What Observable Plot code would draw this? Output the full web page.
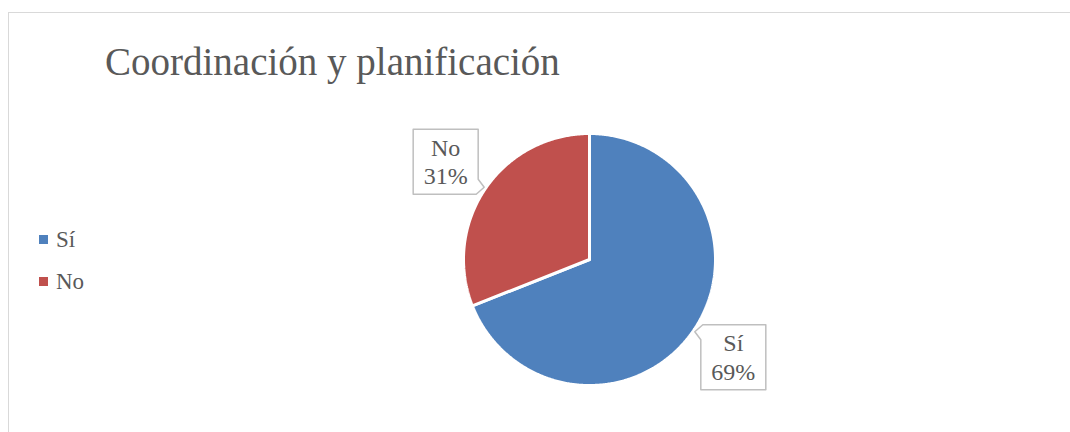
<!DOCTYPE html>
<html>
<head>
<meta charset="utf-8">
<script src="https://cdn.jsdelivr.net/npm/d3@7"></script>
<script src="https://cdn.jsdelivr.net/npm/@observablehq/plot@0.6"></script>
<style>
  html, body { margin: 0; padding: 0; background: #fff; }
  #wrap { position: relative; width: 1070px; height: 432px; overflow: hidden; font-family: "Liberation Serif", "DejaVu Serif", serif; color: #595959; }
  #frame { position: absolute; left: 8px; top: 12px; width: 1100px; height: 460px; border: 1.5px solid #d9d9d9; box-sizing: border-box; }
  #title { position: absolute; left: 105px; top: 42px; font-size: 39px; white-space: nowrap; line-height: 1; }
  #chart { position: absolute; left: 0; top: 0; }
  .leg { position: absolute; left: 39px; font-size: 23px; line-height: 1; white-space: nowrap; }
  .sw { display: inline-block; width: 9px; height: 9px; margin-right: 8px; vertical-align: 3px; }
</style>
</head>
<body>
<div id="wrap">
  <div id="frame"></div>
  <div id="chart"></div>
  <div id="title"></div>
  <div id="legend"></div>
</div>
<script>
const title = "Coordinación y planificación";
const categories = ["Sí", "No"];
const values = [69, 31];
const colors = ["#4F81BD", "#C0504D"];
const labels = ["69%", "31%"];

document.getElementById("title").textContent = title;

// legend
const legend = document.getElementById("legend");
const legendTops = [228, 270];
categories.forEach((c, i) => {
  const d = document.createElement("div");
  d.className = "leg";
  d.style.top = legendTops[i] + "px";
  d.innerHTML = `<span class="sw" style="background:${colors[i]}"></span>${c}`;
  legend.appendChild(d);
});

// pie geometry from data
const data = categories.map((c, i) => ({category: c, value: values[i], color: colors[i], label: labels[i]}));
const arcs = d3.pie().sort(null).value(d => d.value).startAngle(0)(data);

const polys = arcs.map(a => {
  const pts = [{x: 0, y: 0}];
  const n = Math.max(2, Math.ceil((a.endAngle - a.startAngle) / (Math.PI / 360)));
  for (let k = 0; k <= n; k++) {
    const t = a.startAngle + (a.endAngle - a.startAngle) * k / n;
    pts.push({x: Math.sin(t), y: Math.cos(t)});
  }
  pts.push({x: 0, y: 0});
  return {d: a.data, pts};
});

const R = 126; // px per unit
const labelDist = 1.38;
const h = 32.5 / R;
const px = v => v / R;

const labelPos = arcs.map(a => {
  const m = (a.startAngle + a.endAngle) / 2;
  return {d: a.data, x: labelDist * Math.sin(m), y: labelDist * Math.cos(m), mid: m};
});

// callout boxes with a tail pointing toward the pie centre
function callout(p) {
  const sx = Math.sin(p.mid) > 0 ? -1 : 1;
  const sy = Math.cos(p.mid) > 0 ? -1 : 1;
  const cx = p.x, cy = p.y;
  const pts = [];
  pts.push({x: cx - sx * h, y: cy - sy * h});
  pts.push({x: cx + sx * h, y: cy - sy * h});
  pts.push({x: cx + sx * h, y: cy + sy * (h - px(15))});
  pts.push({x: cx + sx * (h + px(6)), y: cy + sy * (h - px(7))});
  pts.push({x: cx + sx * (h - px(2)), y: cy + sy * h});
  pts.push({x: cx - sx * h, y: cy + sy * h});
  pts.push({x: cx - sx * h, y: cy - sy * h});
  return pts;
}

const marks = [];
polys.forEach(p => {
  marks.push(Plot.line(p.pts, {x: "x", y: "y", fill: p.d.color, stroke: "#ffffff", strokeWidth: 3, strokeLinejoin: "miter", curve: "linear"}));
});
labelPos.forEach(p => {
  marks.push(Plot.line(callout(p), {x: "x", y: "y", fill: "#ffffff", stroke: "#bfbfbf", strokeWidth: 1.5, curve: "linear"}));
});
marks.push(Plot.text(labelPos, {x: "x", y: "y", text: d => d.d.category + "\n" + d.d.label, fill: "#595959", fontSize: 24, lineHeight: 1.2, fontFamily: "Liberation Serif, DejaVu Serif, serif", dy: -1}));

const chart = Plot.plot({
  width: 1070,
  height: 432,
  marginLeft: 463,
  marginRight: 355,
  marginTop: 133,
  marginBottom: 47,
  x: {domain: [-1, 1], axis: null},
  y: {domain: [-1, 1], axis: null},
  style: {background: "transparent", overflow: "visible"},
  marks
});
document.getElementById("chart").appendChild(chart);
</script>
</body>
</html>
